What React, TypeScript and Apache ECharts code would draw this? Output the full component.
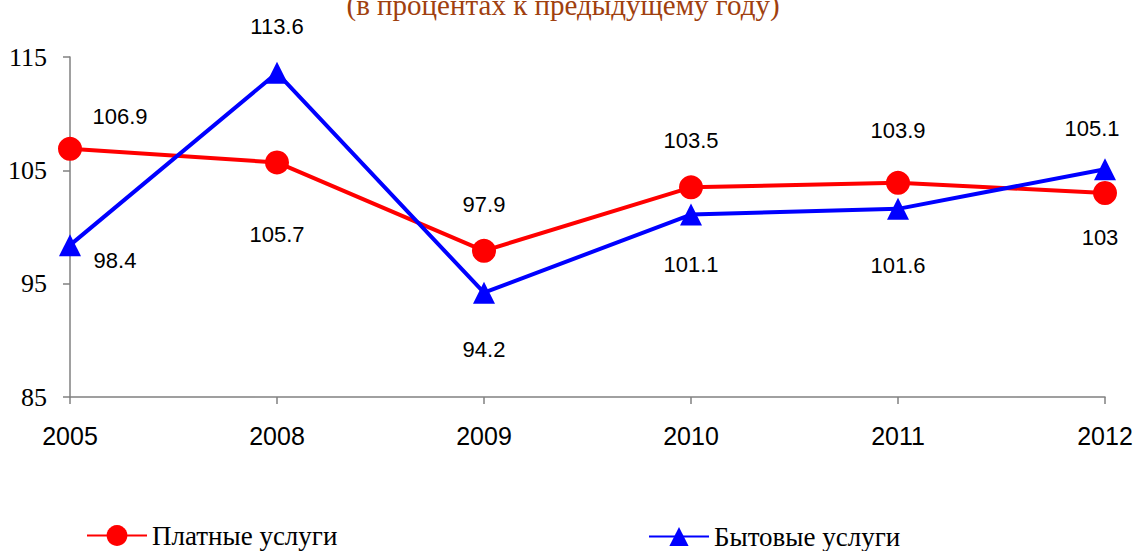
import React, { useEffect, useRef } from "react";
import * as echarts from "echarts";

const categories = ["2005", "2008", "2009", "2010", "2011", "2012"];
const paidServices = [106.9, 105.7, 97.9, 103.5, 103.9, 103];
const householdServices = [98.4, 113.6, 94.2, 101.1, 101.6, 105.1];
const yTicks = [85, 95, 105, 115];
const seriesNames = ["Платные услуги", "Бытовые услуги"];
const subtitle = "(в процентах к предыдущему году)";

// label offsets (style only)
const paidOffsets = [[50, -32], [0, 72], [0, -46], [0, -47], [0, -52], [-5, 44]];
const householdOffsets = [[45, 15], [0, -46], [0, 57], [0, 50], [0, 57], [-13, -41]];

const labelFont = { fontFamily: "Liberation Sans", fontSize: 22, color: "#000" };

export default function App() {
  const ref = useRef<HTMLDivElement>(null);
  useEffect(() => {
    const chart = echarts.init(ref.current!, null, { renderer: "svg" });
    const mk = (vals: number[], offs: number[][]) =>
      vals.map((v, i) => ({
        value: v,
        label: { show: true, position: "inside", offset: offs[i], ...labelFont },
      }));
    chart.setOption({
      animation: false,
      backgroundColor: "#fff",
      graphic: [
        {
          type: "text",
          x: 563,
          y: -10,
          style: {
            text: subtitle,
            font: '29px "Liberation Serif"',
            fill: "#A0400E",
            align: "center",
            verticalAlign: "top",
          },
        },
      ],
      grid: { left: 70, right: 35, top: 57, bottom: 154, containLabel: false },
      legend: [
        {
          data: [seriesNames[0]],
          left: 86,
          top: 522,
          itemWidth: 60,
          itemHeight: 26,
          padding: 0,
          textStyle: { fontFamily: "Liberation Serif", fontSize: 27, color: "#000" },
        },
        {
          data: [seriesNames[1]],
          left: 648,
          top: 523,
          itemWidth: 60,
          itemHeight: 24,
          padding: 0,
          textStyle: { fontFamily: "Liberation Serif", fontSize: 27, color: "#000" },
        },
      ],
      xAxis: {
        type: "category",
        data: categories,
        boundaryGap: false,
        axisLine: { lineStyle: { color: "#808080", width: 1.5 } },
        axisTick: { show: true, length: 7, lineStyle: { color: "#808080", width: 1.5 } },
        axisLabel: {
          margin: 26,
          fontFamily: "Liberation Sans",
          fontSize: 25,
          color: "#000",
        },
      },
      yAxis: {
        type: "value",
        min: 85,
        max: 115,
        splitLine: { show: false },
        axisLine: { show: true, lineStyle: { color: "#808080", width: 1.5 } },
        axisTick: { show: true, length: 7, customValues: yTicks, lineStyle: { color: "#808080", width: 1.5 } },
        axisLabel: {
          customValues: yTicks,
          margin: 23,
          fontFamily: "Liberation Serif",
          fontSize: 26,
          color: "#000",
        },
      },
      series: [
        {
          name: seriesNames[0],
          type: "line",
          data: mk(paidServices, paidOffsets),
          symbol: "circle",
          symbolSize: 24,
          lineStyle: { color: "#FF0000", width: 4 },
          itemStyle: { color: "#FF0000" },
          z: 2,
        },
        {
          name: seriesNames[1],
          type: "line",
          data: mk(householdServices, householdOffsets),
          symbol: "triangle",
          symbolSize: 22,
          lineStyle: { color: "#0000FF", width: 4 },
          itemStyle: { color: "#0000FF" },
          z: 3,
        },
      ],
    });
    return () => chart.dispose();
  }, []);
  return (
    <div
      ref={ref}
      style={{ position: "fixed", left: 0, top: 0, width: 1140, height: 551 }}
    />
  );
}
